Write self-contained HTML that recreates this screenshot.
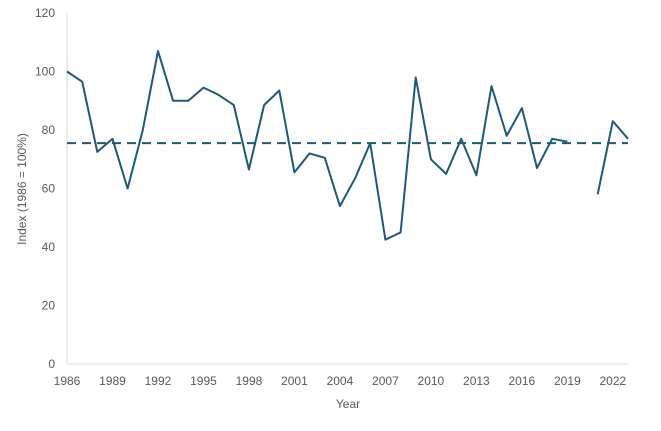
<!DOCTYPE html>
<html><head><meta charset="utf-8"><style>
body{margin:0;background:#fff;}
svg text{font-family:"Liberation Sans",sans-serif;fill:#595959;font-size:12px;}
</style></head><body>
<svg id="chart" width="661" height="426">
<g id="axes"></g><g id="marks"></g>
<text x="348" y="408" text-anchor="middle">Year</text>
<text transform="translate(26,189) rotate(-90)" text-anchor="middle">Index (1986 = 100%)</text>
</svg>
<script>
const years=[1986,1987,1988,1989,1990,1991,1992,1993,1994,1995,1996,1997,1998,1999,2000,2001,2002,2003,2004,2005,2006,2007,2008,2009,2010,2011,2012,2013,2014,2015,2016,2017,2018,2019,2020,2021,2022,2023];
const values=[100,96.5,72.5,77,60,80,107,90,90,94.5,92,88.5,66.5,88.5,93.5,65.5,72,70.5,54,63.5,75.5,42.5,45,98,70,65,77,64.5,95,78,87.5,67,77,76,null,58,83,77];
const average=[75.5];
const yTicks=[0,20,40,60,80,100,120];
const xTicks=[1986,1989,1992,1995,1998,2001,2004,2007,2010,2013,2016,2019,2022];
const ns="http://www.w3.org/2000/svg";
const X=v=>67+(v-1986)*(628-67)/37;
const Y=v=>364-v*(364-13)/120;
const axes=document.getElementById('axes'),marks=document.getElementById('marks');
function mk(t,a,p){const e=document.createElementNS(ns,t);for(const k in a)e.setAttribute(k,a[k]);p.appendChild(e);return e;}
let e=mk('line',{x1:67,y1:13,x2:67,y2:364,stroke:'#d9d9d9'},axes);


e=mk('line',{x1:67,y1:364,x2:628,y2:364,stroke:'#d9d9d9'},axes);


yTicks.forEach(v=>{const t=mk('text',{x:55,y:Y(v)+4,'text-anchor':'end'},axes);t.textContent=v;

});
xTicks.forEach(v=>{const t=mk('text',{x:X(v),y:385,'text-anchor':'middle'},axes);t.textContent=v;

});
let d='',pen=false;
values.forEach((v,i)=>{if(v==null){pen=false;return;}d+=(pen?'L':'M')+X(years[i]).toFixed(1)+' '+Y(v).toFixed(1);pen=true;});
e=mk('path',{d:d,fill:'none',stroke:'#1d5a7a','stroke-width':2,'stroke-linejoin':'round'},marks);


e=mk('line',{x1:X(years[0]),x2:X(years[years.length-1]),y1:Y(average[0]),y2:Y(average[0]),stroke:'#1d5a7a','stroke-width':2,'stroke-dasharray':'9,6'},marks);


</script>
</body></html>
